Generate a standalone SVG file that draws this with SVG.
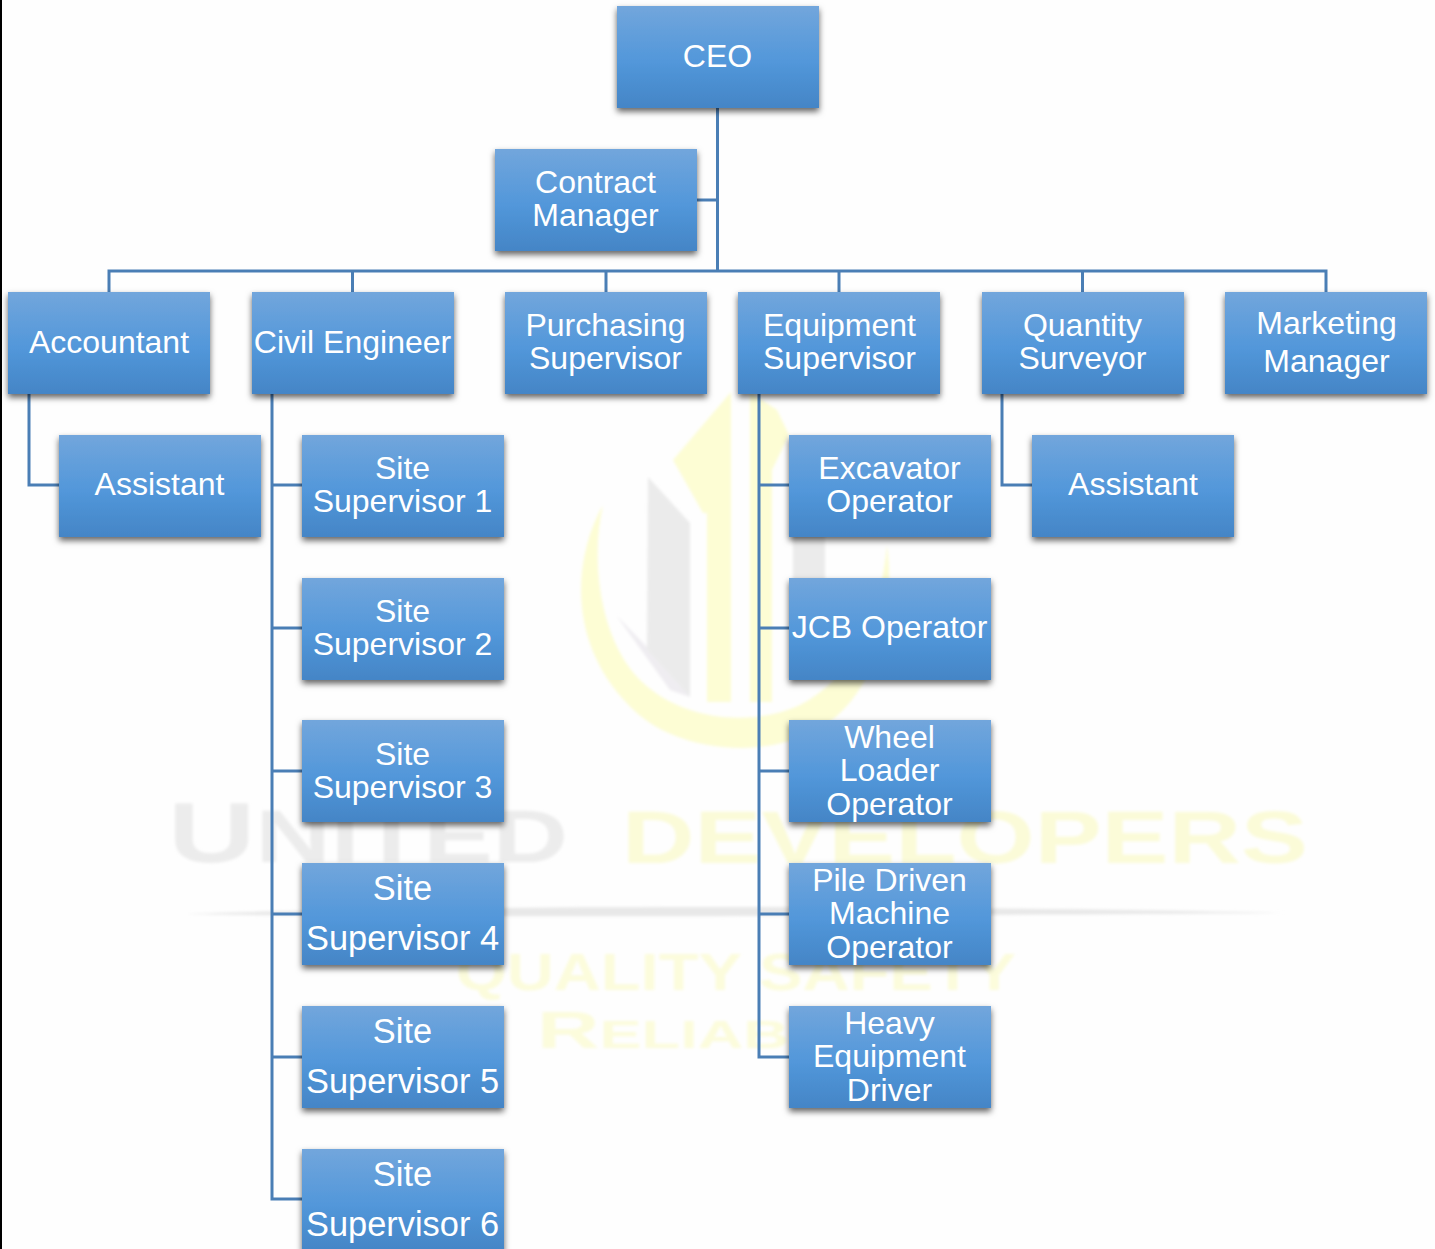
<svg xmlns="http://www.w3.org/2000/svg" width="1435" height="1249" viewBox="0 0 1435 1249">
<style>
.box{fill:url(#g);filter:url(#s)}
.t{font-family:"Liberation Sans",Arial,sans-serif;font-size:32px;fill:#fff;text-anchor:middle}
.b{font-size:34.4px}
.c{fill:none;stroke:#4a7eb5;stroke-width:3}
.wm{font-family:"Liberation Sans",Arial,sans-serif;font-weight:bold}
</style>
<defs>
<linearGradient id="g" x1="0" y1="0" x2="0" y2="1"><stop offset="0" stop-color="#72a6dc"/><stop offset=".55" stop-color="#5297da"/><stop offset="1" stop-color="#4485c6"/></linearGradient>
<filter id="s" x="-10%" y="-10%" width="120%" height="125%"><feDropShadow dx="0" dy="3.500" stdDeviation="3" flood-color="#000" flood-opacity=".62"/></filter>
<filter id="bl"><feGaussianBlur stdDeviation="1.800"/></filter>
</defs>
<rect width="1435" height="1249" fill="#fefefe"/>
<rect width="2" height="1249" fill="#000"/>
<g id="watermark" filter="url(#bl)">
<path fill="#fdfdd4" d="M603,505C572,560 566,650 638,714C680,750 762,762 822,727C872,697 897,620 887,545C880,620 850,680 800,705C750,728 680,720 640,680C600,640 590,560 603,505Z"/>
<path fill="#fdfdd4" d="M731,392L673,460L703,513L707,513L707,702L731,702Z"/>
<path fill="#fdfdd4" d="M750,392L777,410L789,435L772,470L772,702L750,702Z"/>
<path fill="#ebebeb" d="M648,477L690,523L690,697L647,650Z"/>
<path fill="#efedf1" d="M616,615L647,647L647,650L690,697L670,690Z"/>
<path fill="#ebebeb" d="M793,500L825,500L825,680L793,680Z"/>
<text class="wm" x="168" y="862" font-size="74" fill="#ececec" textLength="400" lengthAdjust="spacingAndGlyphs"><tspan font-size="86">U</tspan>NITED</text>
<text class="wm" x="622" y="863" font-size="74" fill="#fbfbd8" textLength="686" lengthAdjust="spacingAndGlyphs">DEVELOPERS</text>
<path fill="#e8e8e8" d="M185,914C400,906 900,904 1285,913C900,916 400,918 185,914Z"/>
<text class="wm" x="456" y="990" font-size="52" fill="#fcfcdc" textLength="560" lengthAdjust="spacingAndGlyphs">QUALITY SAFETY</text>
<text class="wm" x="537" y="1048" font-size="38" fill="#fcfcdc" textLength="252" lengthAdjust="spacingAndGlyphs"><tspan font-size="52">R</tspan>ELIAB</text>
</g>
<g id="connectors">
<path class="c" d="M717.5,108V271M697,200H717.5M109,292V271H1326V292M352.5,271V292M606,271V292M839,271V292M1082.5,271V292"/>
<path class="c" d="M29,394V485H59"/>
<path class="c" d="M272,394V1199H302M272,485H302M272,628H302M272,771H302M272,914H302M272,1057H302"/>
<path class="c" d="M759,394V1057H789M759,485H789M759,628H789M759,771H789M759,914H789"/>
<path class="c" d="M1002,394V485H1032"/>
</g>
<g id="ceo"><rect class="box" x="617" y="6" width="202" height="102"/><text class="t" x="717.500" y="67">CEO</text></g>
<g id="contract-manager"><rect class="box" x="495" y="149" width="202" height="102"/><text class="t" x="595.500" y="193">Contract</text><text class="t" x="595.500" y="226">Manager</text></g>
<g id="accountant"><rect class="box" x="8" y="292" width="202" height="102"/><text class="t" x="109" y="353">Accountant</text></g>
<g id="civil-engineer"><rect class="box" x="252" y="292" width="202" height="102"/><text class="t" x="352.500" y="353">Civil Engineer</text></g>
<g id="purchasing-supervisor"><rect class="box" x="505" y="292" width="202" height="102"/><text class="t" x="605.500" y="336">Purchasing</text><text class="t" x="605.500" y="369">Supervisor</text></g>
<g id="equipment-supervisor"><rect class="box" x="738" y="292" width="202" height="102"/><text class="t" x="839.500" y="336">Equipment</text><text class="t" x="839.500" y="369">Supervisor</text></g>
<g id="quantity-surveyor"><rect class="box" x="982" y="292" width="202" height="102"/><text class="t" x="1082.500" y="336">Quantity</text><text class="t" x="1082.500" y="369">Surveyor</text></g>
<g id="marketing-manager"><rect class="box" x="1225" y="292" width="202" height="102"/><text class="t" x="1326.500" y="334">Marketing</text><text class="t" x="1326.500" y="372">Manager</text></g>
<g id="assistant-1"><rect class="box" x="59" y="435" width="202" height="102"/><text class="t" x="159.500" y="495">Assistant</text></g>
<g id="site-supervisor-1"><rect class="box" x="302" y="435" width="202" height="102"/><text class="t" x="402.500" y="479">Site</text><text class="t" x="402.500" y="512">Supervisor 1</text></g>
<g id="site-supervisor-2"><rect class="box" x="302" y="578" width="202" height="102"/><text class="t" x="402.500" y="622">Site</text><text class="t" x="402.500" y="655">Supervisor 2</text></g>
<g id="site-supervisor-3"><rect class="box" x="302" y="720" width="202" height="102"/><text class="t" x="402.500" y="765">Site</text><text class="t" x="402.500" y="798">Supervisor 3</text></g>
<g id="site-supervisor-4"><rect class="box" x="302" y="863" width="202" height="102"/><text class="t b" x="402.500" y="900">Site</text><text class="t b" x="402.500" y="950">Supervisor 4</text></g>
<g id="site-supervisor-5"><rect class="box" x="302" y="1006" width="202" height="102"/><text class="t b" x="402.500" y="1043">Site</text><text class="t b" x="402.500" y="1093">Supervisor 5</text></g>
<g id="site-supervisor-6"><rect class="box" x="302" y="1149" width="202" height="102"/><text class="t b" x="402.500" y="1186">Site</text><text class="t b" x="402.500" y="1236">Supervisor 6</text></g>
<g id="excavator-operator"><rect class="box" x="789" y="435" width="202" height="102"/><text class="t" x="889.500" y="479">Excavator</text><text class="t" x="889.500" y="512">Operator</text></g>
<g id="jcb-operator"><rect class="box" x="789" y="578" width="202" height="102"/><text class="t" x="889.500" y="638">JCB Operator</text></g>
<g id="wheel-loader-operator"><rect class="box" x="789" y="720" width="202" height="102"/><text class="t" x="889.500" y="748">Wheel</text><text class="t" x="889.500" y="781">Loader</text><text class="t" x="889.500" y="815">Operator</text></g>
<g id="pile-driven-machine-operator"><rect class="box" x="789" y="863" width="202" height="102"/><text class="t" x="889.500" y="891">Pile Driven</text><text class="t" x="889.500" y="924">Machine</text><text class="t" x="889.500" y="958">Operator</text></g>
<g id="heavy-equipment-driver"><rect class="box" x="789" y="1006" width="202" height="102"/><text class="t" x="889.500" y="1034">Heavy</text><text class="t" x="889.500" y="1067">Equipment</text><text class="t" x="889.500" y="1101">Driver</text></g>
<g id="assistant-2"><rect class="box" x="1032" y="435" width="202" height="102"/><text class="t" x="1133" y="495">Assistant</text></g>
</svg>
